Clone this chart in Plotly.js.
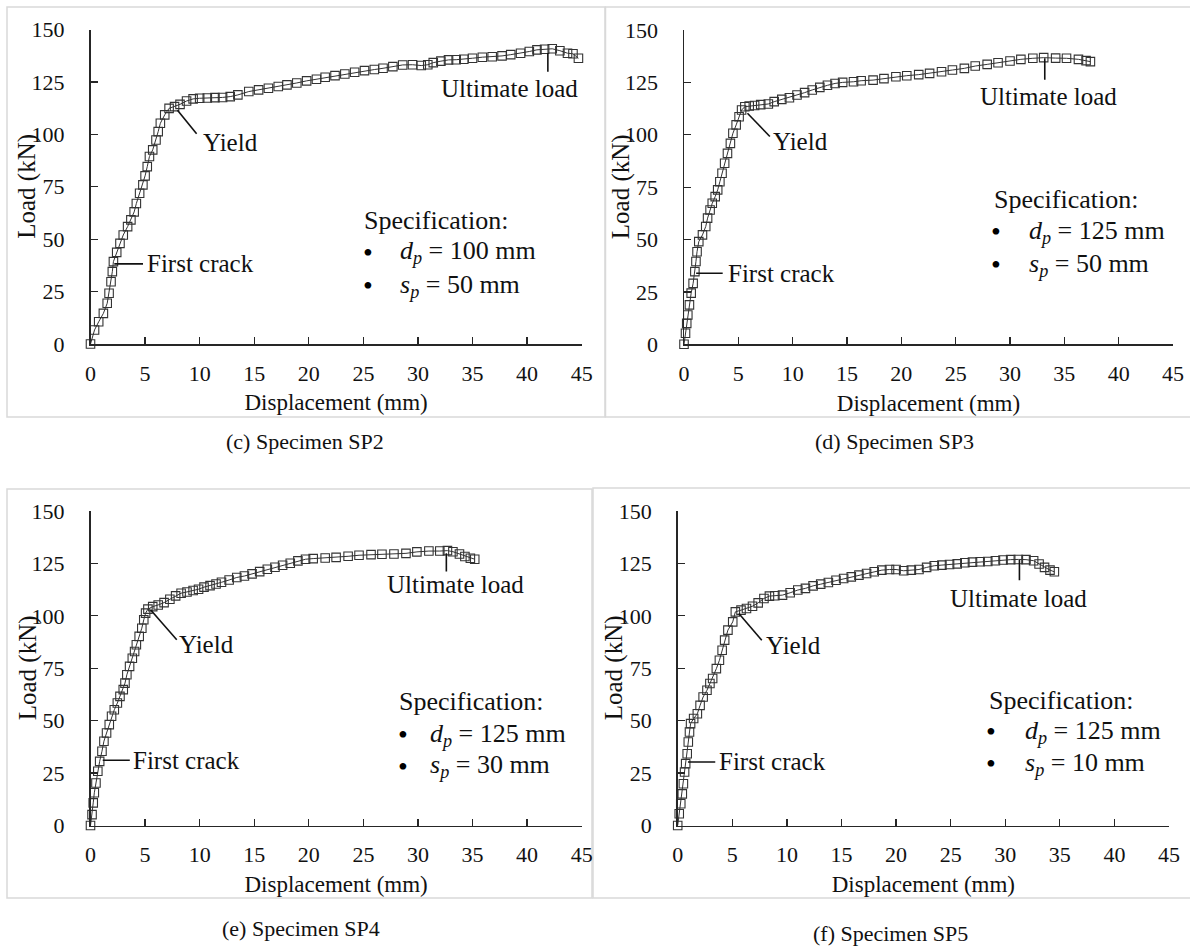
<!DOCTYPE html>
<html>
<head>
<meta charset="utf-8">
<script src="https://cdn.plot.ly/plotly-3.0.1.min.js"></script>
<style>
html,body{margin:0;padding:0;background:#fff;}
#chart{width:1190px;height:948px;}
</style>
</head>
<body>
<div id="chart"></div>
<script>
// ---------------- DATA ----------------
const captions = ["(c) Specimen SP2", "(d) Specimen SP3", "(e) Specimen SP4", "(f) Specimen SP5"];
const dpValues = [100, 125, 125, 125];
const spValues = [50, 50, 30, 10];
const xTickVals = [0, 5, 10, 15, 20, 25, 30, 35, 40, 45];
const yTickVals = [0, 25, 50, 75, 100, 125, 150];

const sp2Disp = [0, 0.37, 0.75, 1.18, 1.53, 1.7, 1.88, 2.0, 2.1, 2.4, 2.7, 3.0, 3.4, 3.7, 4.0, 4.2, 4.5, 4.8, 5.0, 5.2, 5.4, 5.7, 6.0, 6.2, 6.4, 6.8, 7.2, 7.7, 8.2, 8.8, 9.4, 10.0, 10.7, 11.4, 12.1, 12.8, 13.5, 14.5, 15.4, 16.3, 17.2, 18.0, 18.9, 19.8, 20.7, 21.5, 22.4, 23.3, 24.2, 25.1, 26.0, 26.8, 27.7, 28.6, 29.5, 30.3, 30.9, 31.4, 32.1, 32.8, 33.5, 34.2, 35.0, 35.9, 36.8, 37.7, 38.5, 39.4, 40.2, 40.9, 41.6, 42.3, 43.0, 43.7, 44.2, 44.7];
const sp2Load = [0, 6.7, 10.6, 14.6, 19.4, 24.2, 29.7, 34.5, 39.3, 43.7, 48, 52, 56, 59.2, 63, 67, 71.9, 75.9, 80.2, 84.6, 89.4, 92.6, 97.3, 101.3, 105.3, 109.3, 112.4, 113.2, 114.3, 115.9, 116.9, 117.2, 117.3, 117.5, 117.6, 118.0, 118.8, 120.4, 121.2, 122.0, 122.8, 123.6, 124.5, 125.5, 126.3, 127.2, 128.0, 128.8, 129.6, 130.4, 130.9, 131.5, 132.3, 133.1, 133.2, 132.8, 133.2, 134.2, 134.9, 135.5, 135.6, 135.8, 136.3, 136.8, 137.0, 137.4, 138.0, 138.7, 139.5, 140.3, 140.6, 140.8, 139.9, 138.7, 138.4, 136.3];

const sp3Disp = [0, 0.14, 0.25, 0.35, 0.5, 0.66, 0.84, 1.0, 1.1, 1.2, 1.36, 1.7, 2.0, 2.17, 2.4, 2.6, 2.87, 3.1, 3.3, 3.5, 3.74, 4.0, 4.27, 4.5, 4.8, 5.07, 5.3, 5.6, 6.0, 6.5, 7.06, 7.76, 8.3, 9.0, 9.7, 10.4, 11.1, 11.8, 12.5, 13.2, 13.9, 14.6, 15.6, 16.3, 17.4, 18.4, 19.5, 20.5, 21.6, 22.6, 23.7, 24.7, 25.8, 26.8, 27.9, 28.9, 30.0, 31.0, 32.1, 33.1, 34.2, 35.2, 36.3, 37.0, 37.4];
const sp3Load = [0, 5.3, 10, 14, 18.8, 24.4, 29.1, 34.7, 39.5, 44.2, 49, 52.2, 56.2, 60.2, 64.1, 67.3, 70.5, 73.7, 77.6, 81.6, 86.4, 91.1, 95.9, 100.7, 104.7, 108.6, 111.8, 113.4, 113.7, 114, 114.4, 114.7, 115.8, 116.9, 117.7, 119, 120.1, 121.4, 122.6, 123.6, 124.5, 125, 125.3, 125.8, 126.1, 126.8, 127.7, 128.2, 128.7, 129.3, 130.1, 130.9, 131.7, 132.8, 133.6, 134.4, 135.2, 136, 136.5, 136.8, 136.6, 136.5, 136, 135.4, 134.9];

const sp4Disp = [0, 0.14, 0.25, 0.35, 0.5, 0.67, 0.84, 1.05, 1.23, 1.47, 1.72, 1.93, 2.18, 2.46, 2.7, 3.0, 3.16, 3.33, 3.58, 3.83, 4.04, 4.2, 4.46, 4.7, 4.88, 5.05, 5.26, 5.7, 6.2, 6.74, 7.27, 7.8, 8.3, 8.84, 9.4, 9.9, 10.4, 10.95, 11.5, 12.0, 12.7, 13.4, 14.1, 14.8, 15.5, 16.2, 16.9, 17.6, 18.3, 19.0, 19.7, 20.4, 21.5, 22.5, 23.6, 24.6, 25.7, 26.7, 27.8, 28.9, 29.9, 31.0, 32.0, 32.7, 33.2, 33.8, 34.3, 34.8, 35.2];
const sp4Load = [0, 5.2, 10.8, 15.6, 20.3, 25.9, 30.6, 35.4, 40.2, 44.1, 48.1, 52.1, 55.2, 58.4, 61.6, 64.8, 67.9, 71.9, 75.9, 79.8, 83, 86.2, 90.2, 94.1, 98.1, 101.3, 103.2, 104.4, 105.2, 106.3, 107.9, 109.5, 110.8, 111.4, 112.1, 112.7, 113.7, 114.4, 115.2, 116, 117.1, 118.3, 119, 120, 121.1, 122.2, 123.2, 124.1, 125.1, 126.2, 127, 127.3, 127.6, 127.9, 128.4, 128.9, 129.2, 129.4, 129.5, 129.8, 130.5, 130.9, 130.9, 131.1, 130.6, 129.5, 128.3, 127.5, 127];

const sp5Disp = [0, 0.14, 0.28, 0.42, 0.52, 0.63, 0.73, 0.87, 0.97, 1.08, 1.18, 1.46, 1.8, 2.05, 2.33, 2.68, 2.95, 3.2, 3.54, 3.82, 4.07, 4.3, 4.6, 5.04, 5.28, 5.8, 6.3, 6.85, 7.37, 7.9, 8.4, 8.9, 9.6, 10.3, 11.0, 11.7, 12.4, 13.1, 13.8, 14.5, 15.2, 15.9, 16.6, 17.3, 18.0, 18.7, 19.4, 20.0, 20.7, 21.4, 22.1, 22.8, 23.5, 24.2, 24.9, 25.6, 26.3, 27.0, 27.7, 28.4, 29.1, 29.8, 30.5, 31.2, 31.9, 32.6, 33.1, 33.6, 34.1, 34.5];
const sp5Load = [0, 5.6, 10.4, 15.1, 19.9, 25.5, 29.5, 34.2, 39.8, 44.6, 48.6, 51, 53.3, 57.3, 61.3, 64.5, 67.7, 70.1, 74.8, 78.8, 83.6, 88.4, 93.2, 97.1, 101.9, 102.7, 103.5, 104.6, 106.2, 108.3, 109.4, 109.6, 109.9, 111, 112.3, 113.1, 114.3, 115.1, 115.9, 117, 117.8, 118.6, 119.4, 120.2, 121, 121.8, 122.1, 122.1, 121.5, 121.8, 122.1, 123.1, 123.9, 124.2, 124.5, 124.8, 125.3, 125.6, 125.8, 125.9, 126.3, 126.6, 126.8, 126.9, 126.8, 126.3, 124.7, 123.1, 121.8, 121];

const dispSeries = [sp2Disp, sp3Disp, sp4Disp, sp5Disp];
const loadSeries = [sp2Load, sp3Load, sp4Load, sp5Load];

// ---------------- LAYOUT HELPERS ----------------
const W = 1190, H = 948;
const fx = p => p / W;
const fy = p => 1 - p / H;
const FONT = "Liberation Serif";
const INK = "#111111";
const AXC = "#262626";

// pixel geometry of each panel: x-axis [left,right], y-axis [top(150), bottom(0)], border box, caption centre, y title x
const panels = [
  {xa: [90.5, 581.7], ya: [29.5, 344], box: [7, 7, 605, 417], cap: [305, 441], ytx: 27},
  {xa: [684, 1173], ya: [30, 344.3], box: [605.5, 7, 1198, 417], cap: [894, 441], ytx: 621},
  {xa: [90.5, 581.7], ya: [511, 825.5], box: [7, 489, 592, 898], cap: [301, 928], ytx: 28},
  {xa: [677.7, 1169], ya: [511, 825.5], box: [593, 488, 1198, 898], cap: [890, 933], ytx: 614}
];

// annotation anchor positions (data units) per panel
const marks = [
  {ult: {x: 41.9, y0: 138.8, y1: 129.8, tx: 38.4, ty: 121.8},
   yld: {x0: 7.97, y0: 111.5, x1: 9.72, y1: 100.3, tx: 10.1, ty: 96.3},
   fc: {x0: 2.18, x1: 4.81, y: 38.2, tx: 5.0},
   spec: {x: 24.9, y: 58.9, bx: 25.4, tx: 28.2, y1: 43.8, y2: 27.9}},
  {ult: {x: 33.2, y0: 136.5, y1: 126.2, tx: 33.5, ty: 118.3},
   yld: {x0: 5.84, y0: 110.3, x1: 7.9, y1: 99.2, tx: 8.0, ty: 96.8},
   fc: {x0: 1.12, x1: 3.56, y: 33.9, tx: 3.9},
   spec: {x: 28.3, y: 68.9, bx: 28.7, tx: 31.6, y1: 53.8, y2: 37.9}},
  {ult: {x: 32.6, y0: 129.8, y1: 121.1, tx: 33.4, ty: 114.8},
   yld: {x0: 5.5, y0: 102.9, x1: 7.9, y1: 88.6, tx: 7.9, ty: 86.2},
   fc: {x0: 1.12, x1: 3.6, y: 31.1, tx: 3.7},
   spec: {x: 28.1, y: 59.2, bx: 28.6, tx: 30.9, y1: 43.3, y2: 28.3}},
  {ult: {x: 31.3, y0: 126.6, y1: 117.0, tx: 31.2, ty: 108.3},
   yld: {x0: 5.6, y0: 101.1, x1: 7.7, y1: 88.4, tx: 7.9, ty: 86.0},
   fc: {x0: 0.94, x1: 3.44, y: 30.3, tx: 3.6},
   spec: {x: 28.3, y: 59.7, bx: 28.7, tx: 31.6, y1: 44.6, y2: 29.5}}
];

const traces = [];
const layout = {
  width: W, height: H,
  margin: {l: 0, r: 0, t: 0, b: 0},
  paper_bgcolor: "#fff", plot_bgcolor: "rgba(0,0,0,0)",
  showlegend: false,
  font: {family: FONT, color: INK, size: 21},
  annotations: [], shapes: []
};

panels.forEach((p, i) => {
  const n = i + 1;
  const xk = n === 1 ? "x" : "x" + n;
  const yk = n === 1 ? "y" : "y" + n;
  const xaName = n === 1 ? "xaxis" : "xaxis" + n;
  const yaName = n === 1 ? "yaxis" : "yaxis" + n;

  traces.push({
    type: "scatter", mode: "lines+markers",
    x: dispSeries[i], y: loadSeries[i],
    xaxis: xk, yaxis: yk,
    line: {color: "#333", width: 1},
    marker: {symbol: "square-open", size: 8.5, color: "#333", line: {width: 1.1, color: "#333"}},
    cliponaxis: false, hoverinfo: "skip"
  });

  layout[xaName] = {
    domain: [fx(p.xa[0]), fx(p.xa[1])], anchor: yk,
    range: [0, 45], tickvals: xTickVals, ticktext: xTickVals.map(String),
    showline: true, linecolor: AXC, linewidth: 1.5,
    ticks: "inside", ticklen: 7, tickwidth: 1.3, tickcolor: AXC,
    showgrid: false, zeroline: false, fixedrange: true,
    tickfont: {family: FONT, size: 22, color: INK},
    ticklabelstandoff: 9,
    title: {text: "Displacement (mm)", font: {family: FONT, size: 23, color: INK}, standoff: 9}
  };
  layout[yaName] = {
    domain: [fy(p.ya[1]), fy(p.ya[0])], anchor: xk,
    range: [0, 150], tickvals: yTickVals, ticktext: yTickVals.map(String),
    showline: true, linecolor: AXC, linewidth: 1.5,
    ticks: "inside", ticklen: 7, tickwidth: 1.3, tickcolor: AXC,
    showgrid: false, zeroline: false, fixedrange: true,
    tickfont: {family: FONT, size: 22, color: INK},
    ticklabelstandoff: 20
  };

  // panel border
  layout.shapes.push({type: "rect", xref: "paper", yref: "paper",
    x0: fx(p.box[0]), x1: fx(p.box[2]), y0: fy(p.box[3]), y1: fy(p.box[1]),
    line: {color: "#d9d9d9", width: 1.5}, fillcolor: "rgba(0,0,0,0)", layer: "below"});

  // y axis title (overlaps tick labels in the reference, so placed manually)
  layout.annotations.push({xref: "paper", yref: "paper",
    x: fx(p.ytx), y: fy((p.ya[0] + p.ya[1]) / 2), text: "Load (kN)", textangle: -90,
    showarrow: false, xanchor: "center", yanchor: "middle",
    font: {family: FONT, size: 25, color: INK}});

  // caption
  layout.annotations.push({xref: "paper", yref: "paper",
    x: fx(p.cap[0]), y: fy(p.cap[1]), text: captions[i],
    showarrow: false, xanchor: "center", yanchor: "middle",
    font: {family: FONT, size: 22, color: INK}});

  const m = marks[i];
  const lineStyle = {color: "#111", width: 1.6};
  const aFont = {family: FONT, size: 25, color: INK};
  // Ultimate load
  layout.shapes.push({type: "line", xref: xk, yref: yk, x0: m.ult.x, x1: m.ult.x, y0: m.ult.y0, y1: m.ult.y1, line: lineStyle});
  layout.annotations.push({xref: xk, yref: yk, x: m.ult.tx, y: m.ult.ty, text: "Ultimate load",
    showarrow: false, xanchor: "center", yanchor: "middle", font: aFont});
  // Yield
  layout.shapes.push({type: "line", xref: xk, yref: yk, x0: m.yld.x0, x1: m.yld.x1, y0: m.yld.y0, y1: m.yld.y1, line: lineStyle});
  layout.annotations.push({xref: xk, yref: yk, x: m.yld.tx, y: m.yld.ty, text: "Yield",
    showarrow: false, xanchor: "left", yanchor: "middle", font: aFont});
  // First crack
  layout.shapes.push({type: "line", xref: xk, yref: yk, x0: m.fc.x0, x1: m.fc.x1, y0: m.fc.y, y1: m.fc.y, line: lineStyle});
  layout.annotations.push({xref: xk, yref: yk, x: m.fc.tx, y: m.fc.y, text: "First crack",
    showarrow: false, xanchor: "left", yanchor: "middle", font: aFont});
  // Specification block
  layout.annotations.push({xref: xk, yref: yk, x: m.spec.x, y: m.spec.y, text: "Specification:",
    showarrow: false, xanchor: "left", yanchor: "middle", font: {family: FONT, size: 26, color: INK}});
  [[m.spec.y1, "<i>d<sub>p</sub></i> = " + dpValues[i] + " mm"],
   [m.spec.y2, "<i>s<sub>p</sub></i> = " + spValues[i] + " mm"]].forEach(([yy, txt]) => {
    layout.annotations.push({xref: xk, yref: yk, x: m.spec.bx, y: yy, text: "\u2022",
      showarrow: false, xanchor: "center", yanchor: "middle", font: {family: FONT, size: 28, color: "#000"}});
    layout.annotations.push({xref: xk, yref: yk, x: m.spec.tx, y: yy, text: txt,
      showarrow: false, xanchor: "left", yanchor: "middle", font: {family: FONT, size: 26, color: INK}});
  });
});

Plotly.newPlot("chart", traces, layout, {staticPlot: true, displayModeBar: false});
</script>
</body>
</html>
